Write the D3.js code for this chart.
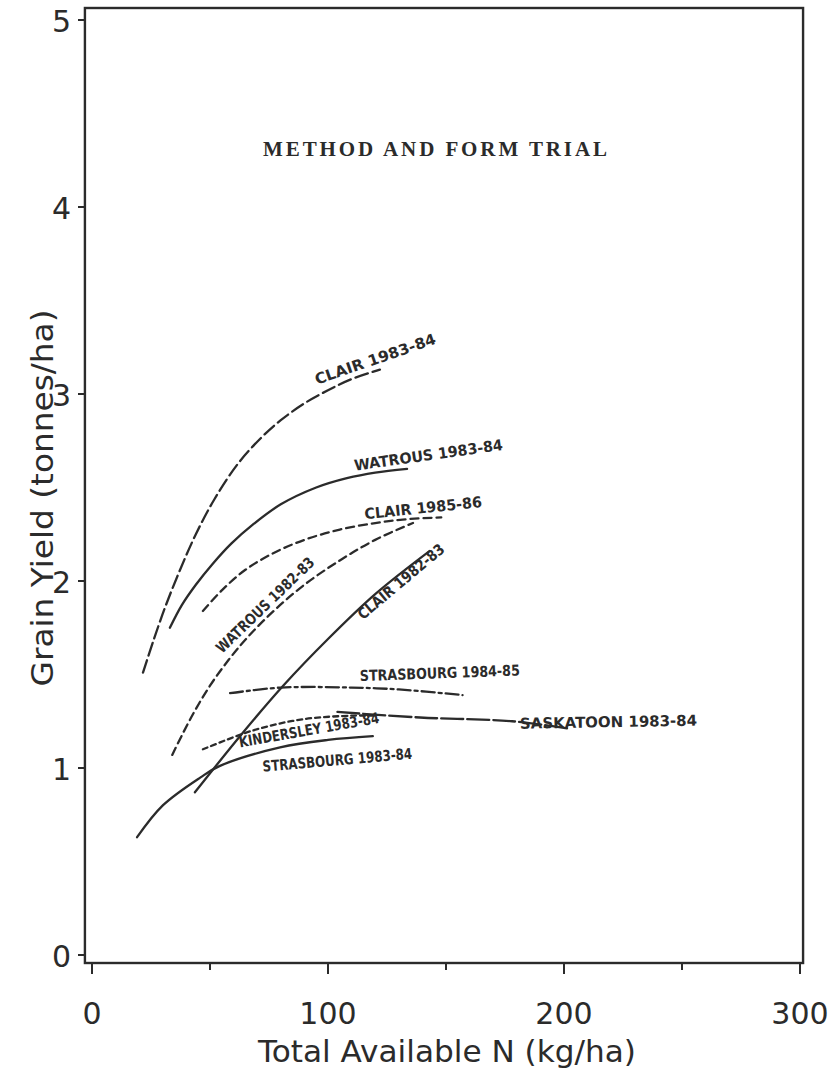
<!DOCTYPE html>
<html>
<head>
<meta charset="utf-8">
<script src="https://cdn.jsdelivr.net/npm/d3@7"></script>
<style>
  body { margin: 0; background: #fff; }
  svg { display: block; }
</style>
</head>
<body>
<svg id="chart" width="837" height="1081"></svg>
<script>
// --- DATA ---
// each series: [total available N (kg/ha), grain yield (t/ha)]
const clair8384 = [[21.6, 1.51], [26, 1.68], [31, 1.86], [37, 2.05], [44, 2.25], [52, 2.44], [62, 2.63], [72, 2.77], [80, 2.86], [90, 2.95], [100, 3.02], [110, 3.08], [122, 3.13]];
const watrous8384 = [[33, 1.75], [38, 1.87], [44, 1.98], [51, 2.09], [59, 2.20], [68, 2.30], [80, 2.41], [95, 2.50], [108, 2.55], [120, 2.58], [133.5, 2.60]];
const clair8586 = [[47, 1.84], [55, 1.95], [65, 2.06], [77, 2.15], [90, 2.22], [105, 2.275], [120, 2.31], [133, 2.33], [148, 2.34]];
const watrous8283 = [[34, 1.07], [42, 1.27], [50, 1.44], [58, 1.58], [66, 1.70], [77, 1.84], [90, 1.98], [105, 2.11], [120, 2.22], [136, 2.31]];
const clair8283 = [[43.6, 0.87], [64, 1.19], [81, 1.44], [100, 1.69], [120, 1.93], [143, 2.16]];
const strasbourg8485 = [[58.5, 1.40], [80, 1.43], [110, 1.43], [130, 1.42], [157, 1.39]];
const saskatoon8384 = [[104, 1.30], [139, 1.27], [178, 1.25], [202.5, 1.21]];
const kindersley8384 = [[47, 1.10], [68, 1.20], [89, 1.26], [110.6, 1.28], [120, 1.28]];
const strasbourg8384 = [[19.1, 0.63], [30, 0.80], [46, 0.95], [54, 1.01], [79.7, 1.11], [100, 1.15], [119, 1.17]];

const seriesNames = ["CLAIR 1983-84", "WATROUS 1983-84", "CLAIR 1985-86", "WATROUS 1982-83", "CLAIR 1982-83",
  "STRASBOURG 1984-85", "SASKATOON 1983-84", "KINDERSLEY 1983-84", "STRASBOURG 1983-84"];
const seriesValues = [clair8384, watrous8384, clair8586, watrous8283, clair8283,
  strasbourg8485, saskatoon8384, kindersley8384, strasbourg8384];

const xTicks = [0, 100, 200, 300];
const xMinorTicks = [50, 150, 250];
const yTicks = [0, 1, 2, 3, 4, 5];

const title = "METHOD AND FORM TRIAL";
const xTitle = "Total Available N (kg/ha)";
const yTitle = "Grain Yield (tonnes/ha)";

// --- SETUP ---
const svg = d3.select("#chart");
const ink = "#2b2b2b";

const x = d3.scaleLinear().domain([0, 300]).range([92, 800]);
const y = d3.scaleLinear().domain([0, 5]).range([955, 20]);

// line style per series (dash pattern), same order as seriesNames
const dashes = ["13,5", null, "8,5", "8,5", null, "13,4,3,4", "22,4", "5,4", null];

// hand lettered labels: anchor in data units, rotation, drawn width
const labelPlace = [
  { n: 95.3, v: 3.05, rot: -19, len: 127 },
  { n: 111.4, v: 2.59, rot: -8, len: 150 },
  { n: 115.7, v: 2.33, rot: -6, len: 118 },
  { n: 55.1, v: 1.61, rot: -44, len: 130 },
  { n: 114.8, v: 1.79, rot: -40, len: 108 },
  { n: 113.6, v: 1.465, rot: -2, len: 160 },
  { n: 181.4, v: 1.21, rot: -1, len: 177 },
  { n: 62.7, v: 1.11, rot: -10, len: 142 },
  { n: 72.5, v: 0.98, rot: -5, len: 150 }
];

// --- FRAME ---
svg.append("rect")
  .attr("x", x(-3)).attr("y", 8)
  .attr("width", x(301.3) - x(-3)).attr("height", 963 - 8)
  .attr("fill", "none").attr("stroke", ink).attr("stroke-width", 2.4);

// x ticks (outside, below the frame)
svg.append("g").selectAll("line.major")
  .data(xTicks).join("line")
  .attr("x1", d => x(d)).attr("x2", d => x(d))
  .attr("y1", 963).attr("y2", 974)
  .attr("stroke", ink).attr("stroke-width", 2);
svg.append("g").selectAll("line.minor")
  .data(xMinorTicks).join("line")
  .attr("x1", d => x(d)).attr("x2", d => x(d))
  .attr("y1", 963).attr("y2", 970)
  .attr("stroke", ink).attr("stroke-width", 2);
svg.append("g").selectAll("text")
  .data(xTicks).join("text")
  .attr("x", d => x(d)).attr("y", 1024)
  .attr("text-anchor", "middle")
  .attr("font-family", "DejaVu Sans, sans-serif")
  .attr("font-size", 30).attr("fill", ink)
  .text(d => d);

// y ticks (outside, left of the frame)
svg.append("g").selectAll("line")
  .data(yTicks).join("line")
  .attr("x1", 78).attr("x2", 85)
  .attr("y1", d => y(d)).attr("y2", d => y(d))
  .attr("stroke", ink).attr("stroke-width", 2);
svg.append("g").selectAll("text")
  .data(yTicks).join("text")
  .attr("x", 71).attr("y", d => y(d) + 12)
  .attr("text-anchor", "end")
  .attr("font-family", "DejaVu Sans, sans-serif")
  .attr("font-size", 30).attr("fill", ink)
  .text(d => d);

// axis titles
svg.append("text")
  .attr("x", 447).attr("y", 1062)
  .attr("text-anchor", "middle")
  .attr("font-family", "DejaVu Sans, sans-serif")
  .attr("font-size", 30).attr("fill", ink)
  .attr("textLength", 378).attr("lengthAdjust", "spacingAndGlyphs")
  .text(xTitle);
svg.append("text")
  .attr("transform", "translate(53, 498) rotate(-90)")
  .attr("text-anchor", "middle")
  .attr("font-family", "DejaVu Sans, sans-serif")
  .attr("font-size", 30).attr("fill", ink)
  .attr("textLength", 377).attr("lengthAdjust", "spacingAndGlyphs")
  .text(yTitle);

// typewritten title
svg.append("text")
  .attr("x", 263).attr("y", 156)
  .attr("font-family", "Liberation Serif, DejaVu Serif, serif")
  .attr("font-weight", "bold")
  .attr("font-size", 21).attr("fill", ink)
  .attr("textLength", 344).attr("lengthAdjust", "spacing")
  .text(title);

// --- CURVES ---
const line = d3.line()
  .x(d => x(d[0]))
  .y(d => y(d[1]))
  .curve(d3.curveCatmullRom.alpha(0.5));

svg.append("g").selectAll("path")
  .data(seriesValues).join("path")
  .attr("d", line)
  .attr("fill", "none")
  .attr("stroke", ink)
  .attr("stroke-width", 2.3)
  .attr("stroke-linecap", "round")
  .attr("stroke-dasharray", (d, i) => dashes[i]);

// --- HAND LETTERED LABELS ---
svg.append("g").selectAll("text")
  .data(seriesNames).join("text")
  .attr("transform", (d, i) => `translate(${x(labelPlace[i].n)}, ${y(labelPlace[i].v)}) rotate(${labelPlace[i].rot})`)
  .attr("font-family", "DejaVu Sans, sans-serif")
  .attr("font-weight", "bold")
  .attr("font-size", 15).attr("fill", ink)
  .attr("textLength", (d, i) => labelPlace[i].len)
  .attr("lengthAdjust", "spacingAndGlyphs")
  .text(d => d);
</script>
</body>
</html>
